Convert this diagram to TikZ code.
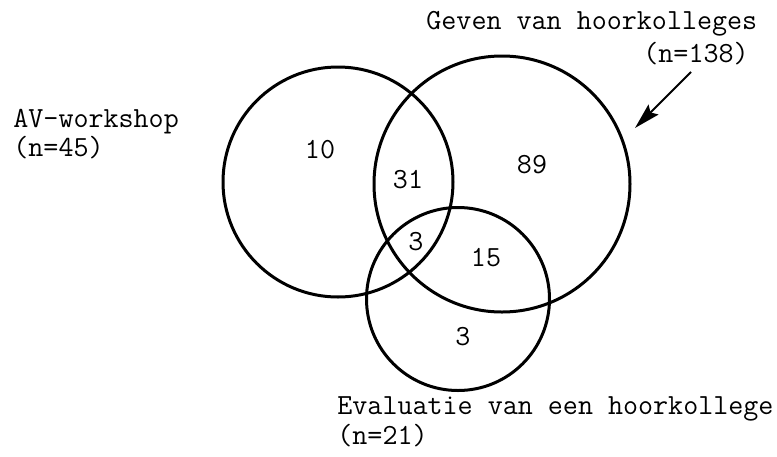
\documentclass[tikz,border=0pt]{standalone}
\usetikzlibrary{arrows.meta}
\begin{document}
\begin{tikzpicture}[x=0.5pt,y=-0.5pt,
  venn/.style={circle,draw,line width=1.5pt,inner sep=0pt,outer sep=0pt},
  lbl/.style={font=\ttfamily\fontsize{14.6}{16}\selectfont,inner sep=0pt,anchor=base west},
  num/.style={font=\ttfamily\fontsize{14.6}{16}\selectfont,inner sep=0pt},
  pointer/.style={line width=1pt,-{Stealth[length=13pt,width=7pt,inset=2pt]}}]
\useasboundingbox (0,0) rectangle (777,456);
% circles
\node[venn,minimum size=115pt] (av) at (338,182) {};
\node[venn,minimum size=128pt] (geven) at (502,184) {};
\node[venn,minimum size=91.5pt] (eval) at (458,299) {};
% region counts
\node[num] (n10) at (320,150) {10};
\node[num] (n31) at (408,180) {31};
\node[num] (n3a) at (416,242) {3};
\node[num] (n89) at (532,165) {89};
\node[num] (n15) at (486,258) {15};
\node[num] (n3b) at (463,337) {3};
% labels
\node[lbl] (avl) at (13,127) {AV-workshop};
\node[lbl] (avn) at (13,156) {(n=45)};
\node[lbl] (gl) at (426,29) {Geven van hoorkolleges};
\node[lbl] (gn) at (643,62) {(n=138)};
\node[lbl] (el) at (337,414) {Evaluatie van een hoorkollege};
\node[lbl] (en) at (337,444) {(n=21)};
% arrow
\coordinate (tip) at (635,128);
\coordinate (start) at (691,72);
\draw[pointer] (start) -- (tip);
\end{tikzpicture}
\end{document}
